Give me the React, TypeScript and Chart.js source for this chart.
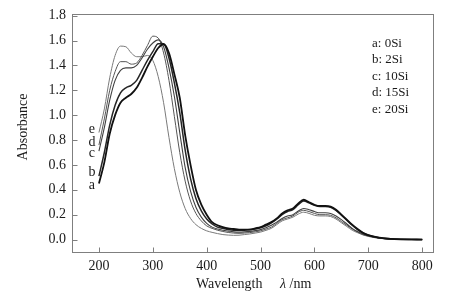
import React, { useEffect, useRef } from "react";
import { Chart, registerables } from "chart.js";
Chart.register(...registerables);

const WAVELENGTHS = [
  200, 210, 220, 230, 240, 250, 260, 270, 280, 290, 300, 310, 320, 330, 340, 350, 360, 370, 380, 390,
  400, 410, 420, 430, 440, 450, 460, 470, 480, 490, 500, 510, 520, 530, 540, 550, 560, 570, 580, 590,
  600, 610, 620, 630, 640, 650, 660, 670, 680, 690, 700, 720, 740, 760, 780, 800,
];

const A_0Si = [
  0.45, 0.62, 0.85, 1.0, 1.1, 1.14, 1.17, 1.22, 1.3, 1.39, 1.47, 1.54, 1.57, 1.5, 1.33, 1.14, 0.84, 0.6, 0.4, 0.28,
  0.2, 0.14, 0.115, 0.1, 0.09, 0.085, 0.08, 0.08, 0.08, 0.09, 0.1, 0.12, 0.14, 0.17, 0.21, 0.235, 0.25, 0.29, 0.32, 0.3,
  0.28, 0.27, 0.27, 0.265, 0.24, 0.2, 0.16, 0.12, 0.085, 0.055, 0.035, 0.015, 0.006, 0.002, 0.001, 0,
];
const B_2Si = [
  0.51, 0.7, 0.92, 1.08, 1.18, 1.22, 1.24, 1.28, 1.36, 1.44, 1.51, 1.575, 1.575, 1.46, 1.26, 1.02, 0.72, 0.49, 0.33, 0.23,
  0.165, 0.125, 0.1, 0.09, 0.08, 0.075, 0.075, 0.075, 0.08, 0.085, 0.095, 0.11, 0.135, 0.165, 0.2, 0.225, 0.24, 0.28, 0.31, 0.295,
  0.275, 0.265, 0.265, 0.26, 0.235, 0.195, 0.155, 0.115, 0.08, 0.053, 0.034, 0.014, 0.006, 0.002, 0.001, 0,
];
const C_10Si = [
  0.71, 0.9, 1.12, 1.28, 1.36, 1.38, 1.38, 1.4, 1.46, 1.53, 1.58, 1.605, 1.55, 1.38, 1.15, 0.86, 0.58, 0.39, 0.26, 0.18,
  0.13, 0.1, 0.085, 0.075, 0.068, 0.062, 0.06, 0.062, 0.066, 0.072, 0.08, 0.095, 0.115, 0.14, 0.17, 0.19, 0.2, 0.23, 0.25, 0.24,
  0.225, 0.215, 0.215, 0.21, 0.19, 0.16, 0.125, 0.09, 0.065, 0.045, 0.03, 0.012, 0.005, 0.002, 0.001, 0,
];
const D_15Si = [
  0.76, 0.97, 1.2, 1.35, 1.43, 1.43, 1.41, 1.42, 1.48, 1.56, 1.635, 1.62, 1.5, 1.28, 0.99, 0.7, 0.47, 0.31, 0.21, 0.15,
  0.11, 0.09, 0.075, 0.065, 0.057, 0.052, 0.05, 0.052, 0.056, 0.062, 0.07, 0.084, 0.1, 0.13, 0.16, 0.175, 0.19, 0.22, 0.235, 0.225,
  0.21, 0.2, 0.2, 0.195, 0.175, 0.145, 0.115, 0.085, 0.06, 0.04, 0.028, 0.011, 0.004, 0.001, 0, 0,
];
const E_20Si = [
  0.86, 1.05, 1.3, 1.48, 1.555, 1.55, 1.5, 1.47, 1.47, 1.48, 1.44, 1.31, 1.1, 0.82, 0.57, 0.38, 0.25, 0.17, 0.12, 0.09,
  0.07, 0.058, 0.048, 0.04, 0.036, 0.034, 0.035, 0.04, 0.045, 0.052, 0.06, 0.074, 0.09, 0.12, 0.15, 0.165, 0.18, 0.205, 0.22, 0.21,
  0.195, 0.19, 0.19, 0.185, 0.165, 0.135, 0.105, 0.075, 0.055, 0.037, 0.025, 0.01, 0.004, 0.001, 0, 0,
];

const SERIES_LETTERS = ["a", "b", "c", "d", "e"];
const LEGEND_LINES = ["a: 0Si", "b: 2Si", "c: 10Si", "d: 15Si", "e: 20Si"];
const X_TICKS = [200, 300, 400, 500, 600, 700, 800];
const Y_TICKS = [0, 0.2, 0.4, 0.6, 0.8, 1.0, 1.2, 1.4, 1.6, 1.8];

const SERIES = [A_0Si, B_2Si, C_10Si, D_15Si, E_20Si];

export default function App() {
  const ref = useRef<HTMLCanvasElement>(null);
  useEffect(() => {
    if (!ref.current) return;
    const FONT = "'Liberation Serif', 'Times New Roman', serif";
    const TEXT = "#1a1a1a";
    const COLORS = ["#111111", "#262626", "#404040", "#555555", "#7a7a7a"];
    const WIDTHS = [1.8, 1.5, 1.1, 1.0, 1.0];
    const labelAnchors = [0.435, 0.54, 0.69, 0.785, 0.89];
    const overlay = {
      id: "overlay",
      afterDraw(chart: any) {
        const ctx = chart.ctx;
        const ca = chart.chartArea;
        const xs = chart.scales.x;
        const ys = chart.scales.y;
        ctx.save();
        ctx.strokeStyle = "#7f7f7f";
        ctx.lineWidth = 1;
        const l = Math.round(ca.left) + 0.5;
        const r = Math.round(ca.right) + 0.5;
        const t = Math.round(ca.top) + 0.5;
        const b = Math.round(ca.bottom) + 0.5;
        ctx.strokeRect(l, t, r - l, b - t);
        ctx.beginPath();
        X_TICKS.forEach((v) => {
          const px = Math.round(xs.getPixelForValue(v)) + 0.5;
          ctx.moveTo(px, b);
          ctx.lineTo(px, b - 5);
        });
        Y_TICKS.forEach((v) => {
          const py = Math.round(ys.getPixelForValue(v)) + 0.5;
          ctx.moveTo(l, py);
          ctx.lineTo(l + 5, py);
        });
        ctx.stroke();

        ctx.fillStyle = TEXT;
        ctx.font = `14px ${FONT}`;
        ctx.textAlign = "center";
        ctx.textBaseline = "middle";
        SERIES_LETTERS.forEach((letter, i) => {
          const px = xs.getPixelForValue(WAVELENGTHS[0]) - 7;
          const py = ys.getPixelForValue(labelAnchors[i]);
          ctx.fillText(letter, px, py);
        });
        ctx.font = `13px ${FONT}`;
        ctx.textAlign = "left";
        ctx.textBaseline = "alphabetic";
        LEGEND_LINES.forEach((txt, i) => {
          ctx.fillText(txt, 372, 47 + i * 16.4);
        });
        ctx.font = `14px ${FONT}`;
        ctx.fillText("Wavelength", 196, 288);
        ctx.font = `italic 14px ${FONT}`;
        ctx.fillText("\u03bb", 280, 288);
        const lw = ctx.measureText("\u03bb").width;
        ctx.font = `14px ${FONT}`;
        ctx.fillText(" /nm", 280 + lw, 288);
        ctx.translate(23, 127);
        ctx.rotate(-Math.PI / 2);
        ctx.textAlign = "center";
        ctx.textBaseline = "middle";
        ctx.fillText("Absorbance", 0, 0);
        ctx.restore();
      },
    };
    const chart = new Chart(ref.current, {
      type: "line",
      data: {
        datasets: SERIES.map((s, i) => ({
          label: LEGEND_LINES[i],
          data: WAVELENGTHS.map((w, j) => ({ x: w, y: s[j] })),
          borderColor: COLORS[i],
          borderWidth: WIDTHS[i],
          pointRadius: 0,
          fill: false,
          cubicInterpolationMode: "monotone" as const,
        })),
      },
      options: {
        animation: false,
        responsive: true,
        maintainAspectRatio: false,
        layout: { padding: { left: 0, right: 31, top: 13, bottom: 0 } },
        plugins: { legend: { display: false }, tooltip: { enabled: false } },
        scales: {
          x: {
            type: "linear",
            min: 150,
            max: 820,
            afterBuildTicks: (s: any) => {
              s.ticks = X_TICKS.map((v) => ({ value: v }));
            },
            afterFit: (s: any) => {
              s.height = 46;
            },
            grid: { display: false, drawTicks: false },
            border: { display: false },
            ticks: { font: { family: FONT, size: 14 }, color: TEXT, padding: 6, maxRotation: 0, autoSkip: false },
          },
          y: {
            type: "linear",
            min: -0.1,
            max: 1.81,
            afterBuildTicks: (s: any) => {
              s.ticks = Y_TICKS.map((v) => ({ value: v }));
            },
            afterFit: (s: any) => {
              s.width = 72;
            },
            grid: { display: false, drawTicks: false },
            border: { display: false },
            ticks: {
              font: { family: FONT, size: 14 },
              color: TEXT,
              padding: 6,
              autoSkip: false,
              callback: (v: any) => Number(v).toFixed(1),
            },
          },
        },
      },
      plugins: [overlay],
    });
    return () => chart.destroy();
  }, []);
  return (
    <div style={{ position: "fixed", left: 0, top: 0, width: 464, height: 298, background: "#fff" }}>
      <canvas ref={ref} />
    </div>
  );
}
